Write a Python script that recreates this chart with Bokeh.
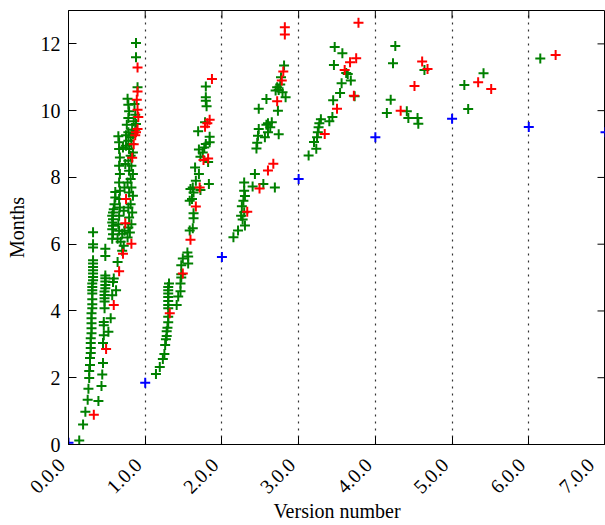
import math
from bokeh.plotting import figure
from bokeh.models import FixedTicker, Range1d
from bokeh.embed import file_html
from bokeh.resources import INLINE

# Release age (months) against version number, one point per release.
version_ticks = [0, 1, 2, 3, 4, 5, 6, 7]
version_labels = ["0.0.0", "1.0.0", "2.0.0", "3.0.0", "4.0.0", "5.0.0", "6.0.0", "7.0.0"]
month_ticks = [0, 2, 4, 6, 8, 10, 12]

# Major releases (x.0.0)
blue_version = [0.0, 1.0, 2.0, 3.0, 4.0, 5.0, 6.0, 7.0]
blue_months = [0.05, 1.85, 5.62, 7.95, 9.20, 9.76, 9.51, 9.35]

# Regular releases
green_version = [
    # 0.x
    0.14, 0.19, 0.22, 0.25, 0.26, 0.27, 0.27, 0.28, 0.28, 0.29, 0.29, 0.29, 0.29, 0.30, 0.30,
    0.30, 0.30, 0.30, 0.31, 0.31, 0.31, 0.31, 0.31, 0.31, 0.31, 0.32, 0.32, 0.32, 0.32, 0.32,
    0.32, 0.32, 0.32, 0.32, 0.32,
    0.39, 0.43, 0.44, 0.45, 0.45, 0.46, 0.46, 0.46, 0.47, 0.47, 0.47, 0.47, 0.47, 0.48, 0.48,
    0.48, 0.48, 0.48, 0.48, 0.48,
    0.52, 0.55, 0.57, 0.62, 0.58, 0.59, 0.64,
    0.57, 0.58, 0.57, 0.58, 0.57, 0.58, 0.57, 0.58, 0.59, 0.60, 0.61, 0.61,
    0.64, 0.66, 0.65, 0.66, 0.67, 0.66, 0.67, 0.66, 0.67, 0.66, 0.67, 0.66, 0.66, 0.65, 0.70,
    0.68, 0.70, 0.72,
    0.77, 0.80, 0.78, 0.82, 0.79, 0.83, 0.78, 0.81, 0.84, 0.79, 0.82, 0.77, 0.81, 0.84, 0.79,
    0.82, 0.78, 0.81, 0.84, 0.79, 0.82, 0.78, 0.81, 0.84, 0.78, 0.72, 0.73, 0.74, 0.71, 0.75,
    0.73,
    0.77, 0.78, 0.79, 0.87, 0.78, 0.85, 0.76, 0.83, 0.87, 0.75, 0.88, 0.88, 0.90, 0.86, 0.88,
    # 1.x
    1.14, 1.19, 1.23, 1.25, 1.26, 1.27, 1.28, 1.28, 1.29, 1.30, 1.30, 1.30, 1.30, 1.30, 1.30,
    1.30, 1.30, 1.30, 1.31, 1.41, 1.43, 1.46, 1.46, 1.47, 1.47, 1.47, 1.56, 1.49, 1.56, 1.55,
    1.58, 1.62, 1.63, 1.63, 1.58, 1.61, 1.63, 1.59, 1.62, 1.72, 1.66, 1.70, 1.65, 1.83, 1.82,
    1.72, 1.75, 1.70, 1.77, 1.79, 1.84, 1.84, 1.69, 1.78, 1.80, 1.79, 1.79, 1.79,
    # 2.x
    2.15, 2.21, 2.30, 2.27, 2.25, 2.29, 2.26, 2.28, 2.30, 2.29, 2.29, 2.40, 2.54, 2.69, 2.43,
    2.45, 2.46, 2.47, 2.48, 2.56, 2.60, 2.63, 2.58, 2.65, 2.60, 2.74, 2.48, 2.73, 2.58, 2.83,
    2.70, 2.72, 2.74, 2.76, 2.79, 2.77, 2.81,
    # 3.x
    3.13, 3.23, 3.20, 3.24, 3.25, 3.26, 3.27, 3.29, 3.40, 3.44, 3.45, 3.54, 3.56, 3.68, 3.62,
    3.64, 3.46, 3.57, 3.47, 3.73,
    # 4.x
    4.26, 4.23, 4.64, 4.20, 4.15, 4.41, 4.43, 4.55, 4.56,
    # 5.x
    5.16, 5.41, 5.21,
    # 6.x
    6.15,
]
green_months = [
    # 0.x
    0.12, 0.60, 0.98, 1.34, 1.67, 1.99, 2.20, 2.38, 2.59, 2.74, 2.89, 3.04, 3.18, 3.33, 3.48,
    3.63, 3.78, 3.93, 4.08, 4.20, 4.35, 4.52, 4.62, 4.72, 4.82, 4.92, 5.02, 5.12, 5.22, 5.32,
    5.42, 5.52, 5.90, 6.00, 6.36,
    1.30, 1.75, 2.10, 2.44, 3.04, 3.27, 3.57, 3.67, 4.08, 4.28, 4.38, 4.48, 4.58, 4.68, 4.78,
    4.88, 4.98, 5.06, 5.65, 5.86,
    3.38, 3.78, 4.47, 4.62, 4.87, 4.97, 5.47,
    6.16, 6.30, 6.45, 6.55, 6.65, 6.75, 6.85, 6.95, 7.05, 7.20, 7.40, 7.56,
    6.16, 6.40, 6.60, 6.85, 7.10, 7.35, 7.60, 7.85, 8.10, 8.35, 8.60, 8.85, 9.05, 9.23, 6.31,
    6.07, 5.80, 5.95,
    6.20, 6.35, 6.50, 6.60, 6.80, 6.95, 7.10, 7.20, 7.45, 7.55, 7.70, 7.85, 7.95, 8.10, 8.20,
    8.35, 8.50, 8.65, 8.75, 8.85, 9.00, 9.10, 9.20, 9.30, 9.35, 7.00, 7.70, 8.40, 8.90, 8.95,
    6.40,
    10.36, 10.18, 9.98, 9.88, 9.78, 9.68, 9.58, 9.43, 9.43, 9.26, 12.03, 11.60, 10.70, 10.20, 9.60,
    # 1.x
    2.11, 2.32, 2.56, 2.71, 2.98, 3.15, 3.25, 3.39, 3.50, 3.66, 3.83, 4.08, 4.18, 4.30, 4.42,
    4.52, 4.62, 4.72, 4.82, 4.18, 4.43, 4.59, 4.82, 5.00, 5.10, 5.37, 5.42, 5.57, 5.63, 5.75,
    6.41, 6.48, 6.78, 6.93, 7.30, 7.35, 7.55, 7.65, 7.70, 7.62, 7.90, 8.10, 8.30, 7.80, 8.46,
    8.62, 8.75, 8.84, 8.90, 9.00, 9.05, 9.22, 9.38, 9.65, 10.13, 10.30, 10.40, 10.72,
    # 2.x
    6.21, 6.41, 6.56, 6.74, 6.85, 6.96, 7.14, 7.30, 7.44, 7.60, 7.85, 7.73, 7.80, 7.70, 8.10,
    8.87, 9.04, 9.25, 9.45, 9.20, 9.35, 9.50, 9.58, 9.65, 9.62, 9.29, 10.06, 10.00, 10.35, 10.40,
    10.60, 10.70, 10.62, 10.78, 10.55, 11.00, 11.35,
    # 3.x
    8.66, 8.86, 9.06, 9.20, 9.35, 9.50, 9.62, 9.74, 9.68, 9.81, 10.31, 10.53, 10.82, 10.90, 11.13,
    11.10, 11.37, 11.72, 11.91, 10.43,
    # 4.x
    11.94, 11.42, 11.22, 10.33, 9.93, 9.98, 9.78, 9.78, 9.61,
    # 5.x
    10.77, 11.12, 10.05,
    # 6.x
    11.56,
]

# Security / bugfix releases
red_version = [
    0.33, 0.49, 0.59, 0.66, 0.71, 0.82, 0.74, 0.75, 0.83, 0.85, 0.87, 0.90, 0.91, 0.90, 0.89,
    0.90, 0.90, 0.88,
    1.32, 1.49, 1.59, 1.66, 1.71, 1.82, 1.76, 1.78, 1.81, 1.84, 1.87,
    2.33, 2.49, 2.60, 2.67, 2.72, 2.78, 2.80, 2.82, 2.82,
    3.34, 3.50, 3.60, 3.67, 3.75, 3.78, 3.72,
    4.61, 4.68, 4.51, 4.33,
    5.34, 5.51,
    6.35,
]
red_months = [
    0.89, 2.86, 4.18, 5.19, 5.71, 6.01, 6.63, 7.35, 8.59, 8.99, 9.26, 9.45, 9.81, 10.03, 10.33,
    10.57, 11.29, 9.35,
    3.93, 5.12, 6.13, 7.13, 7.70, 8.57, 8.52, 9.52, 9.62, 9.73, 10.95,
    6.97, 7.67, 8.21, 8.41, 10.28, 10.90, 11.17, 12.28, 12.50,
    9.30, 10.06, 11.22, 11.45, 11.57, 12.63, 10.45,
    11.47, 11.25, 10.74, 10.00,
    10.85, 10.65,
    11.67,
]

FONT = "Liberation Serif"
X_MAX, Y_MAX = 7, 13

p = figure(
    width=605, height=525,
    x_range=Range1d(0, X_MAX), y_range=Range1d(0, Y_MAX),
    output_backend="svg", toolbar_location=None,
    min_border_left=68, min_border_right=0, min_border_top=10, min_border_bottom=78,
    background_fill_color="white", border_fill_color="white",
)
p.outline_line_color = "black"
p.outline_line_width = 1

# Only dotted vertical lines at each major version
p.ygrid.visible = False
p.xgrid.ticker = FixedTicker(ticks=version_ticks[1:-1])
p.xgrid.grid_line_color = "black"
p.xgrid.grid_line_dash = "2 5"
p.xgrid.grid_line_width = 1.2
p.xgrid.grid_line_alpha = 0.8

# Rotated labels hang down-left of their tick; the trailing no-break
# spaces push the visible text along the rotated baseline.
pad = "\u00a0" * 2
p.xaxis.ticker = FixedTicker(ticks=version_ticks)
p.xaxis.major_label_overrides = {t: s + pad for t, s in zip(version_ticks, version_labels)}
p.xaxis.major_label_orientation = math.pi / 4
p.yaxis.ticker = FixedTicker(ticks=month_ticks)

p.xaxis.axis_label = "Version number"
p.yaxis.axis_label = "Months"

for ax in p.xaxis + p.yaxis:
    ax.major_tick_in = 8
    ax.major_tick_out = 0
    ax.minor_tick_in = 0
    ax.minor_tick_out = 0
    ax.axis_line_color = "black"
    ax.major_tick_line_color = "black"
    ax.major_label_text_font = FONT
    ax.major_label_text_font_size = "20px"
    ax.major_label_text_color = "black"
    ax.axis_label_text_font = FONT
    ax.axis_label_text_font_size = "20px"
    ax.axis_label_text_font_style = "normal"
    ax.axis_label_text_color = "black"

p.xaxis.major_label_standoff = 10
p.yaxis.major_label_standoff = 8
p.xaxis.axis_label_standoff = -8
p.yaxis.axis_label_standoff = 10

# Inward tick marks along the top and right edges (half of each dash is
# clipped by the frame)
p.scatter(version_ticks, [Y_MAX] * len(version_ticks), marker="dash", angle=math.pi / 2,
          size=16, line_color="black", line_width=1)
p.scatter([X_MAX] * len(month_ticks), month_ticks, marker="dash",
          size=16, line_color="black", line_width=1)

marker_style = dict(marker="cross", size=10, line_width=2)
p.scatter(green_version, green_months, line_color="#008000", **marker_style)
p.scatter(red_version, red_months, line_color="#ff0000", **marker_style)
p.scatter(blue_version, blue_months, line_color="#0000ff", **marker_style)

open("out.html", "w").write(file_html(p, INLINE))
